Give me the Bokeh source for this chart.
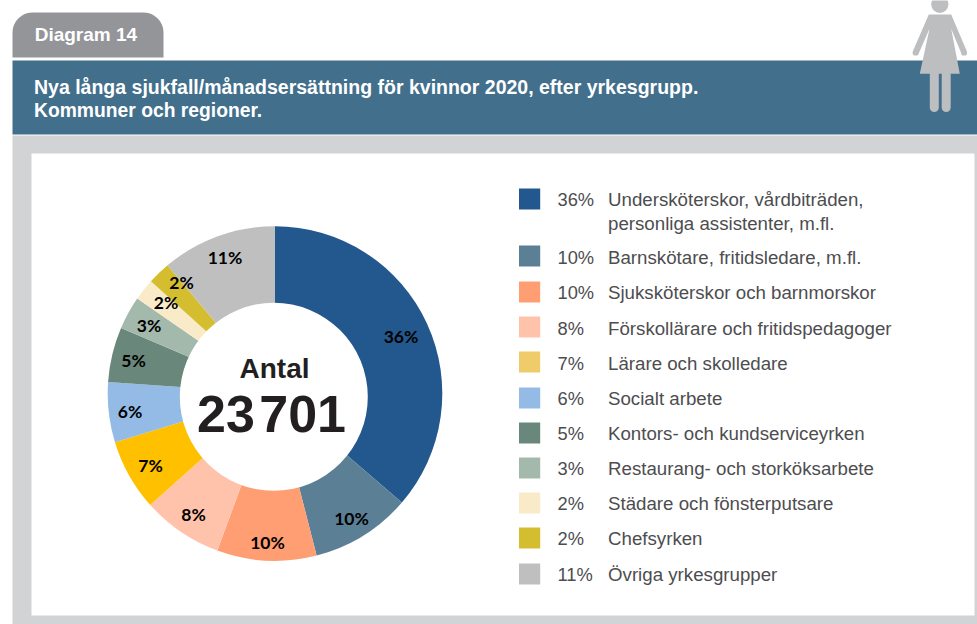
import numpy as np
from bokeh.plotting import figure
from bokeh.models import Range1d
from bokeh.core.properties import value
from bokeh.embed import file_html
from bokeh.resources import INLINE

# ---- data ----
shares = [36.3, 9.7, 9.6, 7.8, 6.9, 5.8, 5.3, 3.2, 2.1, 2.2, 11.1]
pct_labels = ["36%", "10%", "10%", "8%", "7%", "6%", "5%", "3%", "2%", "2%", "11%"]
categories = [
    "Undersköterskor, vårdbiträden,\npersonliga assistenter, m.fl.",
    "Barnskötare, fritidsledare, m.fl.",
    "Sjuksköterskor och barnmorskor",
    "Förskollärare och fritidspedagoger",
    "Lärare och skolledare",
    "Socialt arbete",
    "Kontors- och kundserviceyrken",
    "Restaurang- och storköksarbete",
    "Städare och fönsterputsare",
    "Chefsyrken",
    "Övriga yrkesgrupper",
]
pie_colors = ["#23588E", "#5B7F95", "#FF9E73", "#FFC3AB", "#FFC000", "#93BBE6",
              "#69877A", "#A3B9AC", "#F9EBC8", "#D4BE30", "#BFBFBF"]
legend_colors = ["#23588E", "#5B7F95", "#FF9E73", "#FFC3AB", "#F0CB69", "#93BBE6",
                 "#69877A", "#A3B9AC", "#F9EBC8", "#D4BE30", "#BFBFBF"]
tab_title = "Diagram 14"
title_lines = ["Nya långa sjukfall/månadsersättning för kvinnor 2020, efter yrkesgrupp.",
               "Kommuner och regioner."]
center_top = "Antal"
center_num = "23\u200a701"

# ---- layout (page pixels, y measured from the top of the page) ----
W, H = 977, 624
p = figure(width=W, height=H, output_backend="svg", toolbar_location=None,
           x_range=Range1d(0, W), y_range=Range1d(0, H), min_border=0)
p.xaxis.visible = False
p.yaxis.visible = False
p.grid.visible = False
p.outline_line_color = None
p.background_fill_color = "white"
p.border_fill_color = "white"

Y = lambda py: H - np.asarray(py, dtype=float)


def box(x0, x1, y0, y1, color):
    p.quad(left=x0, right=x1, top=Y(y0), bottom=Y(y1), fill_color=color, line_color=None)


def text(x, y, s, size, color, style="normal", font="Liberation Sans", align="left"):
    p.text(x=[x], y=[float(Y(y))], text=[s], text_font=value(font), text_font_size=f"{size}px",
           text_font_style=style, text_color=color, text_align=align, text_baseline="middle")


# tab
r = 20
a = np.linspace(np.pi, np.pi / 2, 12)
tx = list(12 + r + r * np.cos(a)) + list(163 - r - r * np.cos(a[::-1])) + [163, 12]
ty = list(12 + r - r * np.sin(a)) + list(12 + r - r * np.sin(a[::-1])) + [57, 57]
p.patch(tx, Y(ty), fill_color="#939598", line_color=None)
text(34.2, 34, tab_title, 19, "white", "bold")

# bands
box(12, W, 60, 134, "#426F8C")
box(12, W, 135, H, "#D1D3D4")
box(31, 974, 153, 615, "white")
text(33.5, 86, title_lines[0], 19.5, "white", "bold")
text(33.5, 109.5, title_lines[1], 19.3, "white", "bold")

# figure icon
ic = "#BCBEC0"
p.circle(x=[939.3], y=[float(Y(3.8))], radius=8.6, fill_color=ic, line_color=None)
p.patch([928.3, 950.7, 966, 961.7, 950.7, 959.3, 919.3, 929, 917.3, 912.7],
        Y([14, 14, 50, 55, 28.3, 73.3, 73.3, 28.3, 55, 50]), fill_color=ic, line_color=None)
for ax, ay in ((963.7, 52.2), (915, 52.2)):
    p.circle(x=[ax], y=[float(Y(ay))], radius=2.9, fill_color=ic, line_color=None)
for lx in (933.8, 945.7):
    p.line([lx, lx], Y([72, 107]), line_color=ic, line_width=9, line_cap="round")

# donut: slices around the ring centre, with the slightly off-centre white hole of the original
cx, cy = 274.5, 393
R_out = 167.3
hole_x, hole_y, hole_r = 273.3, 396.3, 94
cum = np.concatenate([[0], np.cumsum(shares)]) / 100 * 2 * np.pi
starts = np.pi / 2 - cum[1:]
ends = np.pi / 2 - cum[:-1]
p.wedge(x=cx, y=float(Y(cy)), radius=R_out, start_angle=starts, end_angle=ends,
        fill_color=pie_colors, line_color=None)
p.circle(x=[hole_x], y=[float(Y(hole_y))], radius=hole_r, fill_color="white", line_color=None)

label_px = [400.5, 351, 267, 193, 150, 129.5, 133, 148.5, 165.5, 181, 224.5]
label_py = [336, 518, 542, 514, 465, 411, 360, 325, 302, 282, 257]
for x_, y_, s in zip(label_px, label_py, pct_labels):
    text(x_, y_, s, 17.5, "black", "bold", "Lato", "center")
text(274, 368, center_top, 28, "#231F20", "bold", align="center")
text(271, 413, center_num, 52, "#231F20", "bold", align="center")

# legend
leg_top = [188, 245, 281, 316, 351, 387, 422, 457, 492, 527, 563]
leg_text = [199, 257, 292, 328, 363, 398, 433, 468, 503, 538, 574]
for top, yt, col, s, name in zip(leg_top, leg_text, legend_colors, pct_labels, categories):
    box(518.5, 539.7, top, top + 21, col)
    text(557, yt, s, 18.3, "#4D4D4F")
    for i, line in enumerate(name.split("\n")):
        text(607.5, yt + i * 23.5, line, 18.7, "#4D4D4F")

open("out.html", "w").write(file_html(p, INLINE))
